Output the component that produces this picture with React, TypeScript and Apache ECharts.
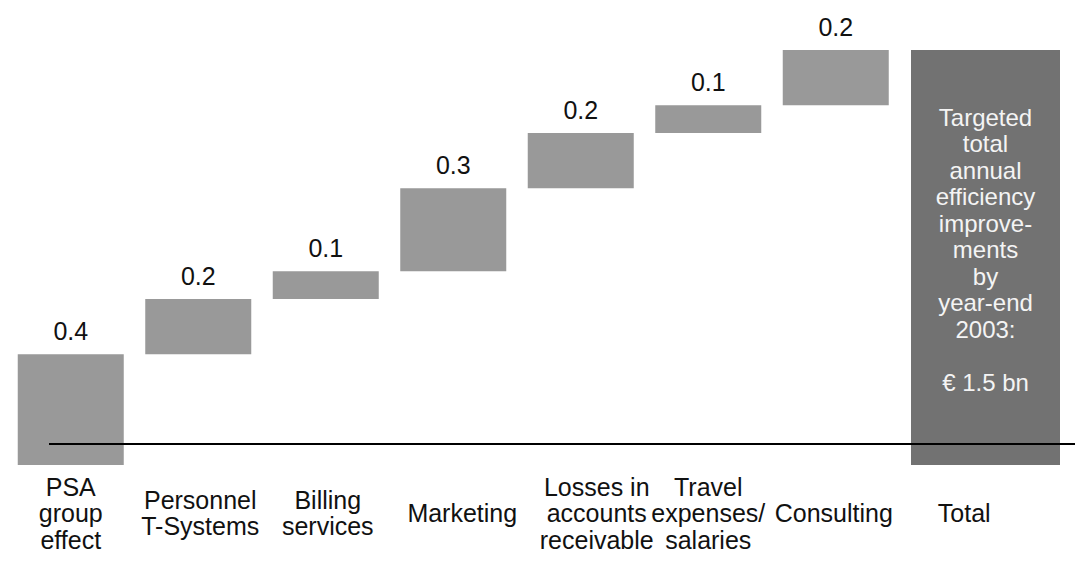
import React, { useEffect, useRef } from "react";
import * as echarts from "echarts";

const categories = [
  "PSA\ngroup\neffect",
  "Personnel\nT-Systems",
  "Billing\nservices",
  "Marketing",
  "Losses in\naccounts\nreceivable",
  "Travel\nexpenses/\nsalaries",
  "Consulting",
  "Total",
];
const labelShift = [0, 4, 4, 18, 32, 0, -4, 2];
const deltas = [0.4, 0.2, 0.1, 0.3, 0.2, 0.1, 0.2];
const totalValue = 1.5;
const totalText = [
  "Targeted",
  "total",
  "annual",
  "efficiency",
  "improve-",
  "ments",
  "by",
  "year-end",
  "2003:",
  "",
  `€ ${totalValue} bn`,
];

const FONT = "'Liberation Sans', Arial, sans-serif";

export default function App() {
  const ref = useRef<HTMLDivElement>(null);
  useEffect(() => {
    if (!ref.current) return;
    const chart = echarts.init(ref.current, undefined, { renderer: "svg" });

    const bases: (number | string)[] = [];
    let acc = 0;
    deltas.forEach((d) => {
      bases.push(Math.round(acc * 100) / 100);
      acc += d;
    });
    bases.push("-");
    const deltaData: (number | string)[] = [...deltas, "-"];

    const catData = categories.map((c, i) => ({
      value: c,
      textStyle: {
        verticalAlign: "middle",
        fontSize: 25,
        lineHeight: 26.5,
        padding:
          labelShift[i] >= 0 ? [0, 0, 0, labelShift[i]] : [0, -labelShift[i], 0, 0],
      },
    }));

    chart.setOption({
      animation: false,
      textStyle: { fontFamily: FONT },
      grid: [
        { left: 7, right: 48, top: 50, bottom: 100, outerBoundsMode: "none", containLabel: false },
        { left: 911, width: 149, top: 50, bottom: 100, outerBoundsMode: "none", containLabel: false },
      ],
      xAxis: [
        {
          type: "category",
          gridIndex: 0,
          data: catData,
          axisLine: { show: false },
          axisTick: { show: false },
          axisLabel: {
            interval: 0,
            fontSize: 25,
            lineHeight: 26.5,
            color: "#111",
            fontFamily: FONT,
            verticalAlign: "middle",
            margin: 48,
          },
        },
        {
          type: "category",
          gridIndex: 1,
          data: ["Total"],
          show: false,
        },
      ],
      yAxis: [
        { type: "value", gridIndex: 0, min: 0, max: totalValue, show: false, splitLine: { show: false } },
        { type: "value", gridIndex: 1, min: 0, max: totalValue, show: false, splitLine: { show: false } },
      ],
      series: [
        {
          type: "bar",
          stack: "w",
          data: bases,
          barWidth: 106,
          itemStyle: { color: "transparent" },
          silent: true,
        },
        {
          type: "bar",
          stack: "w",
          data: deltaData,
          barWidth: 106,
          itemStyle: { color: "#999999" },
          label: {
            show: true,
            position: "top",
            distance: 11,
            fontSize: 25,
            color: "#111",
            fontFamily: FONT,
            formatter: (p: any) => String(p.value),
          },
        },
        {
          type: "bar",
          xAxisIndex: 1,
          yAxisIndex: 1,
          data: [totalValue],
          barWidth: "100%",
          itemStyle: { color: "#727272" },
          label: {
            show: true,
            position: "inside",
            offset: [0, -8],
            fontSize: 24,
            lineHeight: 26.5,
            color: "#f4f4f4",
            fontFamily: FONT,
            align: "center",
            formatter: () => totalText.join("\n"),
          },
        },
      ],
      graphic: [
        {
          type: "line",
          z: 100,
          shape: { x1: 49, y1: 444, x2: 1075, y2: 444 },
          style: { stroke: "#000", lineWidth: 2 },
        },
      ],
    });
    return () => chart.dispose();
  }, []);
  return (
    <div
      ref={ref}
      style={{ position: "fixed", left: 0, top: 0, width: 1075, height: 565, background: "#fff" }}
    />
  );
}
